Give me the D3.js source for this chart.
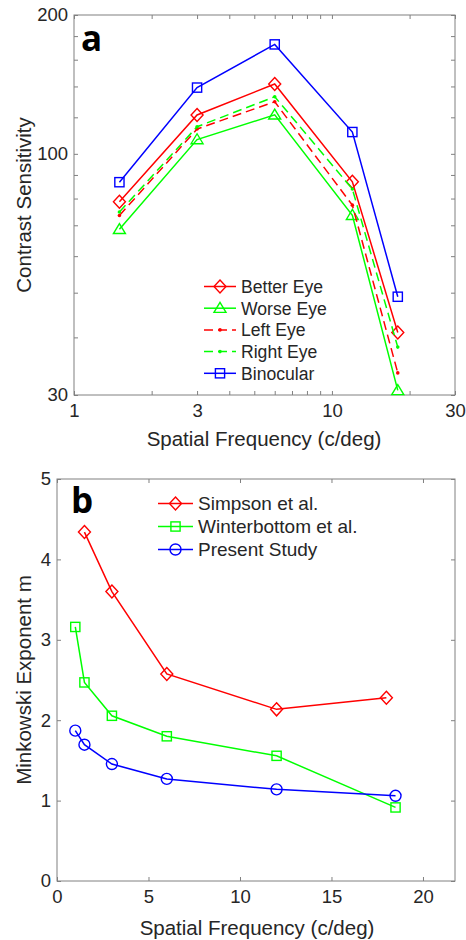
<!DOCTYPE html>
<head>
  <meta charset="utf-8">
  <title>Contrast sensitivity and Minkowski exponent</title>
  <script src="https://d3js.org/d3.v7.min.js"></script>
  <style>
    body { margin: 0; background: #fff; }
    text { font-family: "Liberation Sans", Arial, Helvetica, sans-serif; fill: #262626; }
    .axis path { display: none; }
    .axis line { stroke: #808080; }
    .axis text { font-size: 18.5px; fill: #262626; font-family: "Liberation Sans", Arial, sans-serif; }
    .frame { fill: none; stroke: #808080; stroke-width: 1; }
    .panel-tag { font-family: "Open Sans", sans-serif; font-weight: 700; font-size: 35px; fill: #000; }
  </style>
</head>
<body>
  <svg width="466" height="940"></svg>
  <script>
    // panel a: contrast sensitivity (log-log)
    const sfA       = [1.5, 3, 6, 12, 18];
    const betterEye = [78.7, 121.4, 141.7, 87.0, 41.0];
    const worseEye  = [68.6, 107.4, 121.5, 73.6, 30.7];
    const leftEye   = [73.5, 113.2, 129.7, 77.4, 33.5];
    const rightEye  = [74.8, 114.5, 133.0, 83.9, 38.1];
    const binocular = [86.8, 139.2, 172.7, 111.5, 49.0];
    const xTicksA      = [1, 3, 10, 30];
    const xMinorA      = [2, 4, 5, 6, 7, 8, 9, 20];
    const yTicksA      = [30, 100, 200];
    const yMinorA      = [40, 50, 60, 70, 80, 90, 120, 140, 160, 180];

    // panel b: Minkowski exponent
    const sfSimpson = [1.5, 3, 6, 12, 18];
    const simpson   = [4.34, 3.60, 2.575, 2.135, 2.28];
    const sfB       = [1, 1.5, 3, 6, 12, 18.5];
    const winterbottom = [3.16, 2.47, 2.055, 1.80, 1.557, 0.915];
    const present      = [1.87, 1.695, 1.455, 1.27, 1.14, 1.06];
    const xTicksB = [0, 5, 10, 15, 20];
    const yTicksB = [0, 1, 2, 3, 4, 5];

    const svg = d3.select("svg");
    const TICK = 4;

    // marker shapes
    function marker(g, type, x, y, color) {
      if (type === "diamond") {
        g.append("path").attr("d", `M${x},${y-6.5}L${x+6},${y}L${x},${y+6.5}L${x-6},${y}Z`)
          .attr("fill", "none").attr("stroke", color).attr("stroke-width", 1.4);
      } else if (type === "square") {
        g.append("rect").attr("x", x-4.6).attr("y", y-4.6).attr("width", 9.2).attr("height", 9.2)
          .attr("fill", "none").attr("stroke", color).attr("stroke-width", 1.4);
      } else if (type === "triangle") {
        g.append("path").attr("d", `M${x},${y-5.8}L${x+6},${y+4.2}L${x-6},${y+4.2}Z`)
          .attr("fill", "none").attr("stroke", color).attr("stroke-width", 1.4);
      } else if (type === "circle") {
        g.append("circle").attr("cx", x).attr("cy", y).attr("r", 5.5)
          .attr("fill", "none").attr("stroke", color).attr("stroke-width", 1.4);
      } else if (type === "dot") {
        g.append("circle").attr("cx", x).attr("cy", y).attr("r", 1.8).attr("fill", color);
      }
    }

    function series(g, xs, ys, x, y, s) {
      const pts = xs.map((v, i) => [x(v), y(ys[i])]);
      g.append("path")
        .attr("d", d3.line()(pts))
        .attr("fill", "none")
        .attr("stroke", s.color)
        .attr("stroke-width", 1.5)
        .attr("stroke-dasharray", s.dash ? "9,5" : null);
      pts.forEach(p => marker(g, s.marker, p[0], p[1], s.color));
    }

    function frameAxes(g, x, y, xt, xm, yt, ym, fmtX, fmtY) {
      const [x0, x1] = x.range(), [y0, y1] = y.range();
      // bottom / left with labels
      g.append("g").attr("class", "axis").attr("transform", `translate(0,${y0})`)
        .call(d3.axisBottom(x).tickValues(xt).tickSizeInner(-TICK).tickSizeOuter(0).tickPadding(9).tickFormat(fmtX));
      g.append("g").attr("class", "axis").attr("transform", `translate(${x0},0)`)
        .call(d3.axisLeft(y).tickValues(yt).tickSizeInner(-TICK).tickSizeOuter(0).tickPadding(6).tickFormat(fmtY));
      // top / right mirror ticks
      g.append("g").attr("class", "axis").attr("transform", `translate(0,${y1})`)
        .call(d3.axisTop(x).tickValues(xt.concat(xm)).tickSizeInner(-TICK).tickSizeOuter(0).tickFormat(""));
      g.append("g").attr("class", "axis").attr("transform", `translate(${x1},0)`)
        .call(d3.axisRight(y).tickValues(yt.concat(ym)).tickSizeInner(-TICK).tickSizeOuter(0).tickFormat(""));
      if (xm.length) g.append("g").attr("class", "axis").attr("transform", `translate(0,${y0})`)
        .call(d3.axisBottom(x).tickValues(xm).tickSizeInner(-TICK).tickSizeOuter(0).tickFormat(""));
      if (ym.length) g.append("g").attr("class", "axis").attr("transform", `translate(${x0},0)`)
        .call(d3.axisLeft(y).tickValues(ym).tickSizeInner(-TICK).tickSizeOuter(0).tickFormat(""));
      g.append("rect").attr("class", "frame")
        .attr("x", x0).attr("y", y1).attr("width", x1 - x0).attr("height", y0 - y1);
    }

    function legend(g, items, x0, x1, yBase, step, size) {
      items.forEach((s, i) => {
        const yb = yBase + i * step, yl = yb - 6.5;
        g.append("line").attr("x1", x0).attr("x2", x1).attr("y1", yl).attr("y2", yl)
          .attr("stroke", s.color).attr("stroke-width", 1.5)
          .attr("stroke-dasharray", s.dash ? "9,5" : null);
        marker(g, s.marker, (x0 + x1) / 2, yl, s.color);
        g.append("text").attr("x", x1 + 5).attr("y", yb).style("font-size", size + "px").text(s.name);
      });
    }

    // ---------- panel a ----------
    const gA = svg.append("g");
    const xA = d3.scaleLog().domain([1, 30]).range([74, 455]);
    const yA = d3.scaleLog().domain([30, 200]).range([395, 15]);
    frameAxes(gA, xA, yA, xTicksA, xMinorA, yTicksA, yMinorA, d3.format("d"), d3.format("d"));

    const sA = [
      {name: "Better Eye", ys: betterEye, color: "#ff0000", marker: "diamond"},
      {name: "Worse Eye",  ys: worseEye,  color: "#00ff00", marker: "triangle"},
      {name: "Left Eye",   ys: leftEye,   color: "#ff0000", marker: "dot", dash: true},
      {name: "Right Eye",  ys: rightEye,  color: "#00ff00", marker: "dot", dash: true},
      {name: "Binocular",  ys: binocular, color: "#0000ff", marker: "square"}
    ];
    sA.forEach(s => series(gA, sfA, s.ys, xA, yA, s));
    legend(gA, sA, 204, 236, 293, 21.7, 17.6);

    gA.append("text").attr("class", "panel-tag").attr("x", 81).attr("y", 51).text("a");
    gA.append("text").attr("x", 264).attr("y", 446).attr("text-anchor", "middle")
      .style("font-size", "20.5px").text("Spatial Frequency (c/deg)");
    gA.append("text").attr("transform", "translate(31,205) rotate(-90)").attr("text-anchor", "middle")
      .style("font-size", "20.5px").text("Contrast Sensitivity");

    // ---------- panel b ----------
    const gB = svg.append("g");
    const xB = d3.scaleLinear().domain([0, 21.75]).range([57, 455]);
    const yB = d3.scaleLinear().domain([0, 5]).range([881, 479]);
    frameAxes(gB, xB, yB, xTicksB, [], yTicksB, [], d3.format("d"), d3.format("d"));

    const sB = [
      {name: "Simpson et al.",      xs: sfSimpson, ys: simpson,      color: "#ff0000", marker: "diamond"},
      {name: "Winterbottom et al.", xs: sfB,       ys: winterbottom, color: "#00ff00", marker: "square"},
      {name: "Present Study",       xs: sfB,       ys: present,      color: "#0000ff", marker: "circle"}
    ];
    sB.forEach(s => series(gB, s.xs, s.ys, xB, yB, s));
    legend(gB, sB, 158, 193, 510, 23, 19);

    gB.append("text").attr("class", "panel-tag").attr("x", 71).attr("y", 513).text("b");
    gB.append("text").attr("x", 257).attr("y", 935).attr("text-anchor", "middle")
      .style("font-size", "20.5px").text("Spatial Frequency (c/deg)");
    gB.append("text").attr("transform", "translate(31,680) rotate(-90)").attr("text-anchor", "middle")
      .style("font-size", "20.5px").text("Minkowski Exponent m");
  </script>
</body>
